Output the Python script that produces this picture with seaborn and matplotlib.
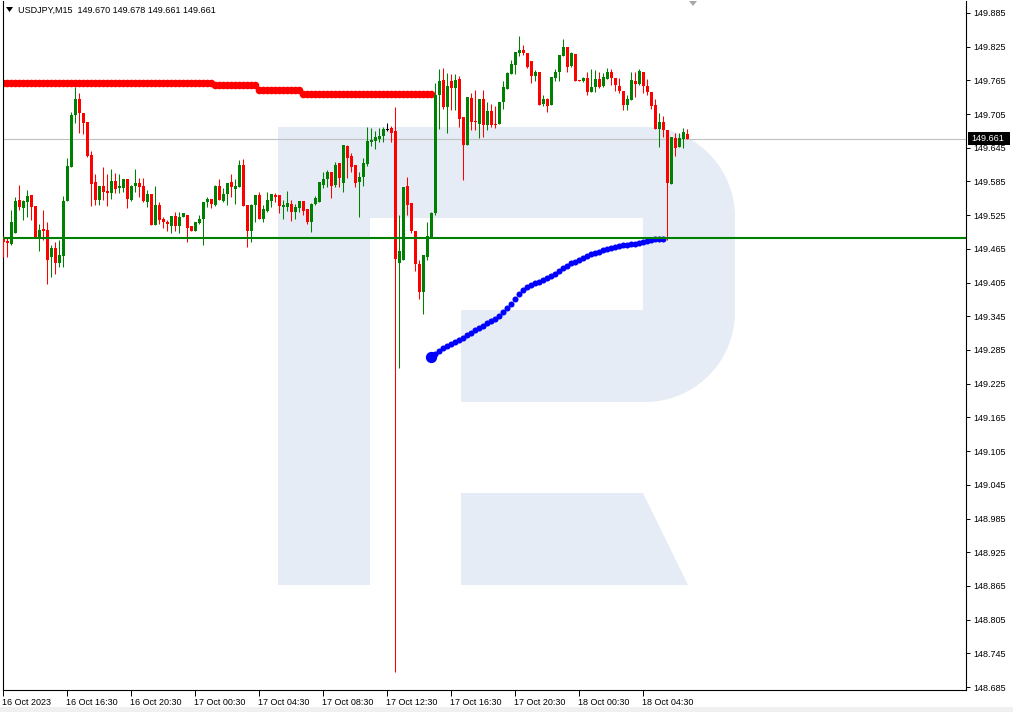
import matplotlib
matplotlib.use("Agg")
import matplotlib.pyplot as plt
import numpy as np
import pandas as pd
import seaborn as sns
from matplotlib.patches import Polygon, Rectangle
import matplotlib.transforms as mtransforms

# ---------------- data ----------------
symbol_title = "USDJPY,M15  149.670 149.678 149.661 149.661"
start_time = "2023-10-16 12:30"

opens = [149.484, 149.479, 149.474, 149.494, 149.552, 149.538, 149.549, 149.561, 149.542, 149.487,
         149.500, 149.499, 149.451, 149.467, 149.440, 149.453, 149.551, 149.611, 149.703, 149.732,
         149.707, 149.690, 149.632, 149.584, 149.552, 149.577, 149.568, 149.565, 149.586, 149.574,
         149.574, 149.589, 149.552, 149.577, 149.582, 149.577, 149.549, 149.563, 149.508, 149.543,
         149.518, 149.512, 149.505, 149.524, 149.505, 149.521, 149.525, 149.505, 149.497, 149.511,
         149.518, 149.549, 149.554, 149.543, 149.577, 149.550, 149.562, 149.584, 149.572, 149.576,
         149.614, 149.543, 149.496, 149.543, 149.561, 149.518, 149.533, 149.550, 149.561, 149.561,
         149.540, 149.540, 149.545, 149.530, 149.537, 149.550, 149.536, 149.513, 149.545, 149.549,
         149.579, 149.589, 149.602, 149.579, 149.617, 149.582, 149.648, 149.630, 149.614, 149.584,
         149.593, 149.616, 149.656, 149.657, 149.661, 149.666, 149.677, 149.680, 149.675, 149.440,
         149.446, 149.577, 149.546, 149.497, 149.438, 149.389, 149.451, 149.487, 149.528, 149.738,
         149.766, 149.718, 149.764, 149.751, 149.767, 149.700, 149.650, 149.734, 149.693, 149.687,
         149.732, 149.686, 149.711, 149.687, 149.687, 149.727, 149.750, 149.776, 149.792, 149.814,
         149.819, 149.814, 149.799, 149.773, 149.779, 149.723, 149.732, 149.721, 149.770, 149.779,
         149.809, 149.825, 149.790, 149.812, 149.766, 149.763, 149.770, 149.744, 149.753, 149.767,
         149.755, 149.767, 149.779, 149.770, 149.755, 149.746, 149.721, 149.730, 149.764, 149.758,
         149.780, 149.755, 149.745, 149.721, 149.678, 149.691, 149.677, 149.580, 149.663, 149.646,
         149.660, 149.670]
highs = [149.488, 149.484, 149.534, 149.558, 149.579, 149.552, 149.570, 149.561, 149.542, 149.509,
         149.534, 149.512, 149.472, 149.477, 149.481, 149.559, 149.626, 149.709, 149.754, 149.743,
         149.707, 149.691, 149.639, 149.598, 149.577, 149.611, 149.598, 149.607, 149.600, 149.598,
         149.589, 149.589, 149.579, 149.607, 149.591, 149.592, 149.570, 149.563, 149.577, 149.549,
         149.522, 149.516, 149.524, 149.531, 149.531, 149.528, 149.525, 149.505, 149.512, 149.525,
         149.549, 149.558, 149.554, 149.579, 149.589, 149.573, 149.583, 149.598, 149.589, 149.624,
         149.625, 149.543, 149.545, 149.561, 149.566, 149.543, 149.567, 149.562, 149.564, 149.561,
         149.552, 149.568, 149.552, 149.544, 149.550, 149.550, 149.536, 149.547, 149.559, 149.584,
         149.602, 149.605, 149.602, 149.620, 149.617, 149.650, 149.650, 149.636, 149.614, 149.602,
         149.626, 149.682, 149.681, 149.675, 149.681, 149.682, 149.689, 149.684, 149.717, 149.525,
         149.576, 149.593, 149.546, 149.497, 149.445, 149.454, 149.512, 149.531, 149.760, 149.785,
         149.787, 149.778, 149.776, 149.776, 149.773, 149.700, 149.736, 149.742, 149.748, 149.732,
         149.748, 149.727, 149.723, 149.719, 149.727, 149.763, 149.779, 149.801, 149.816, 149.844,
         149.827, 149.814, 149.799, 149.783, 149.779, 149.738, 149.734, 149.771, 149.786, 149.810,
         149.839, 149.825, 149.816, 149.812, 149.766, 149.771, 149.780, 149.785, 149.783, 149.779,
         149.778, 149.787, 149.785, 149.770, 149.769, 149.746, 149.739, 149.780, 149.780, 149.785,
         149.780, 149.767, 149.745, 149.732, 149.707, 149.702, 149.677, 149.664, 149.671, 149.671,
         149.680, 149.678]
lows = [149.451, 149.451, 149.472, 149.493, 149.534, 149.516, 149.522, 149.516, 149.484, 149.462,
        149.481, 149.402, 149.415, 149.421, 149.432, 149.433, 149.551, 149.611, 149.689, 149.671,
        149.669, 149.629, 149.542, 149.543, 149.543, 149.552, 149.542, 149.553, 149.565, 149.564,
        149.567, 149.538, 149.551, 149.567, 149.558, 149.549, 149.540, 149.508, 149.508, 149.509,
        149.503, 149.496, 149.494, 149.496, 149.493, 149.521, 149.478, 149.497, 149.496, 149.509,
        149.472, 149.540, 149.538, 149.541, 149.552, 149.548, 149.543, 149.558, 149.545, 149.576,
        149.542, 149.469, 149.478, 149.512, 149.518, 149.513, 149.531, 149.540, 149.548, 149.528,
        149.519, 149.532, 149.515, 149.518, 149.530, 149.525, 149.509, 149.495, 149.543, 149.549,
        149.573, 149.576, 149.556, 149.576, 149.575, 149.567, 149.591, 149.602, 149.576, 149.522,
        149.577, 149.612, 149.648, 149.642, 149.656, 149.656, 149.674, 149.656, 148.712, 149.253,
        149.446, 149.525, 149.494, 149.426, 149.376, 149.349, 149.445, 149.485, 149.525, 149.678,
        149.714, 149.672, 149.712, 149.712, 149.682, 149.588, 149.650, 149.677, 149.677, 149.663,
        149.665, 149.677, 149.682, 149.681, 149.687, 149.714, 149.750, 149.776, 149.776, 149.808,
        149.810, 149.787, 149.761, 149.764, 149.721, 149.719, 149.709, 149.721, 149.764, 149.764,
        149.809, 149.779, 149.789, 149.763, 149.763, 149.762, 149.739, 149.744, 149.744, 149.751,
        149.753, 149.767, 149.757, 149.746, 149.742, 149.712, 149.712, 149.730, 149.736, 149.757,
        149.742, 149.739, 149.714, 149.678, 149.647, 149.665, 149.480, 149.580, 149.630, 149.646,
        149.645, 149.661]
closes = [149.478, 149.476, 149.512, 149.550, 149.540, 149.551, 149.559, 149.540, 149.487, 149.499,
          149.497, 149.445, 149.467, 149.439, 149.454, 149.550, 149.612, 149.703, 149.732, 149.706,
          149.689, 149.630, 149.581, 149.552, 149.577, 149.566, 149.565, 149.586, 149.572, 149.577,
          149.589, 149.553, 149.577, 149.582, 149.576, 149.551, 149.563, 149.508, 149.543, 149.516,
          149.512, 149.509, 149.524, 149.505, 149.522, 149.528, 149.503, 149.497, 149.512, 149.518,
          149.549, 149.554, 149.545, 149.577, 149.552, 149.563, 149.583, 149.575, 149.577, 149.614,
          149.542, 149.497, 149.543, 149.561, 149.518, 149.536, 149.552, 149.562, 149.558, 149.542,
          149.543, 149.547, 149.531, 149.540, 149.550, 149.532, 149.512, 149.545, 149.556, 149.584,
          149.589, 149.602, 149.577, 149.614, 149.591, 149.650, 149.627, 149.611, 149.583, 149.593,
          149.618, 149.657, 149.659, 149.664, 149.666, 149.678, 149.677, 149.672, 149.447, 149.461,
          149.576, 149.543, 149.497, 149.438, 149.388, 149.454, 149.488, 149.529, 149.738, 149.764,
          149.718, 149.755, 149.751, 149.766, 149.696, 149.650, 149.736, 149.691, 149.690, 149.732,
          149.686, 149.711, 149.686, 149.686, 149.727, 149.754, 149.778, 149.794, 149.816, 149.819,
          149.814, 149.789, 149.773, 149.779, 149.721, 149.732, 149.720, 149.771, 149.779, 149.810,
          149.825, 149.789, 149.813, 149.764, 149.763, 149.770, 149.744, 149.753, 149.767, 149.754,
          149.771, 149.779, 149.769, 149.757, 149.746, 149.721, 149.732, 149.766, 149.758, 149.782,
          149.755, 149.744, 149.720, 149.678, 149.691, 149.677, 149.582, 149.664, 149.645, 149.663,
          149.673, 149.661]

# red indicator (bars 0..107)
red_line = ([149.760] * 53 + [149.757] * 11 + [149.748] * 11 + [149.740] * 33)
# blue indicator (bars 107..165)
blue_start_bar = 107
blue_line = [149.273, 149.278, 149.283, 149.289, 149.292, 149.296, 149.299, 149.303, 149.306, 149.312,
             149.315, 149.321, 149.324, 149.328, 149.333, 149.337, 149.340, 149.346, 149.353, 149.360,
             149.367, 149.376, 149.385, 149.392, 149.397, 149.401, 149.404, 149.406, 149.410, 149.413,
             149.417, 149.420, 149.426, 149.431, 149.435, 149.440, 149.442, 149.445, 149.449, 149.452,
             149.456, 149.458, 149.459, 149.463, 149.465, 149.467, 149.468, 149.470, 149.472, 149.472,
             149.474, 149.474, 149.476, 149.477, 149.479, 149.481, 149.483, 149.483, 149.483]

support_level = 149.484
last_price = 149.661
y_ticks = [148.685, 148.745, 148.805, 148.865, 148.925, 148.985, 149.045, 149.105, 149.165, 149.225,
           149.285, 149.345, 149.405, 149.465, 149.525, 149.585, 149.645, 149.705, 149.765, 149.825,
           149.885]
x_labels = ["16 Oct 2023", "16 Oct 16:30", "16 Oct 20:30", "17 Oct 00:30", "17 Oct 04:30",
            "17 Oct 08:30", "17 Oct 12:30", "17 Oct 16:30", "17 Oct 20:30", "18 Oct 00:30",
            "18 Oct 04:30"]

# ---------------- figure ----------------
sns.set_theme(style="white")
plt.rcParams['font.family'] = ['Liberation Sans', 'DejaVu Sans']

W, H = 1013, 712
fig = plt.figure(figsize=(W / 100, H / 100), dpi=100)
fig.patch.set_facecolor('white')

# background watermark logo (pixel coordinates)
bg = fig.add_axes([0, 0, 1, 1], zorder=0)
bg.set_xlim(0, W); bg.set_ylim(H, 0); bg.axis('off')
logo_col = '#e6ecf5'
t1 = np.linspace(-np.pi / 2, 0, 30)
t2 = np.linspace(0, np.pi / 2, 30)
r = 90
pts = [(278, 127)]
pts += [(645 + r * np.cos(t), 217 + r * np.sin(t)) for t in t1]
pts += [(645 + r * np.cos(t), 312 + r * np.sin(t)) for t in t2]
pts += [(461, 402), (461, 310), (643, 310), (643, 218), (370, 218), (370, 585), (278, 585)]
bg.add_patch(Polygon(pts, closed=True, facecolor=logo_col, edgecolor='none'))
bg.add_patch(Polygon([(461, 493), (643, 493), (688, 585), (461, 585)], closed=True,
                     facecolor=logo_col, edgecolor='none'))
bg.add_patch(Rectangle((0, 707), W, 5, facecolor='#f0f0f0', edgecolor='none'))
bg.add_patch(Polygon([(689, 1), (697, 1), (693, 6)], closed=True, facecolor='#a8a8a8', edgecolor='none'))

# main axes
L, R, B, T = 3, 966, 690, 1
ax = fig.add_axes([L / W, (H - B) / H, (R - L) / W, (B - T) / H], zorder=1)
ax.patch.set_alpha(0)

df = pd.DataFrame({"o": opens, "h": highs, "l": lows, "c": closes})
df["i"] = np.arange(len(df))
df["time"] = pd.date_range(start_time, periods=len(df), freq="15min")
colors = np.where(df.c > df.o, '#008000', np.where(df.c < df.o, '#ff0000', '#000000'))

# indicators
red_df = pd.DataFrame({"i": np.arange(len(red_line)), "v": red_line})
sns.scatterplot(data=red_df, x="i", y="v", color='#ff0000', s=30, linewidth=0, ax=ax,
                legend=False, zorder=2)
blue_df = pd.DataFrame({"i": np.arange(len(blue_line)) + blue_start_bar, "v": blue_line})
sns.scatterplot(data=blue_df, x="i", y="v", color='#0000ff', s=19, linewidth=0, ax=ax,
                legend=False, zorder=2)
sns.scatterplot(data=blue_df.iloc[:1], x="i", y="v", color='#0000ff', s=66, linewidth=0, ax=ax,
                legend=False, zorder=2)

# candles
ax.vlines(df.i, df.l, df.h, colors=colors, lw=0.75, zorder=3)
body_lo = np.minimum(df.o, df.c)
body_h = np.maximum((df.c - df.o).abs(), 0.0016)
ax.bar(df.i, body_h, bottom=body_lo, width=0.75, color=colors, linewidth=0, zorder=3)

# horizontal lines
ax.axhline(last_price, color='#c0c0c0', lw=0.8, zorder=1)
ax.axhline(support_level, color='#008000', lw=1.5, zorder=4)

ax.set_xlim(-0.075, 240.675)
ax.set_ylim(148.6798, 149.9062)
ax.set_xlabel(""); ax.set_ylabel("")

# axes styling
ax.spines['top'].set_visible(False)
for s in ['left', 'right', 'bottom']:
    ax.spines[s].set_color('black'); ax.spines[s].set_linewidth(0.8)

ax.yaxis.tick_right()
ax.set_yticks(y_ticks)
ax.set_yticklabels([f"{v:.3f}" for v in y_ticks])
ax.tick_params(axis='y', right=True, left=False, direction='out', length=3, width=0.7,
               pad=2.5, labelsize=6.5, colors='black')

tick_pos = df.i.iloc[::16].values
ax.set_xticks(tick_pos)
ax.set_xticklabels(x_labels, ha='left')
ax.tick_params(axis='x', bottom=True, direction='out', length=4, width=0.7, pad=1.5,
               labelsize=6.5, colors='black')
offset = mtransforms.ScaledTranslation(-1 / 100, 0, fig.dpi_scale_trans)
for lab in ax.get_xticklabels():
    lab.set_transform(lab.get_transform() + offset)

# overlay: title, price tag
ov = fig.add_axes([0, 0, 1, 1], zorder=5)
ov.set_xlim(0, W); ov.set_ylim(H, 0); ov.axis('off'); ov.patch.set_alpha(0)
ov.add_patch(Polygon([(6, 7), (13, 7), (9.5, 12)], closed=True, facecolor='black', edgecolor='none'))
ov.text(18, 10, symbol_title, fontsize=6.5, va='center', ha='left', color='black')
ov.add_patch(Rectangle((968, 132), 42, 13, facecolor='black', edgecolor='none'))
ov.text(971, 138.5, f"{last_price:.3f}", fontsize=6.5, va='center', ha='left', color='white')

fig.savefig("out.png", dpi=100, facecolor='white')
